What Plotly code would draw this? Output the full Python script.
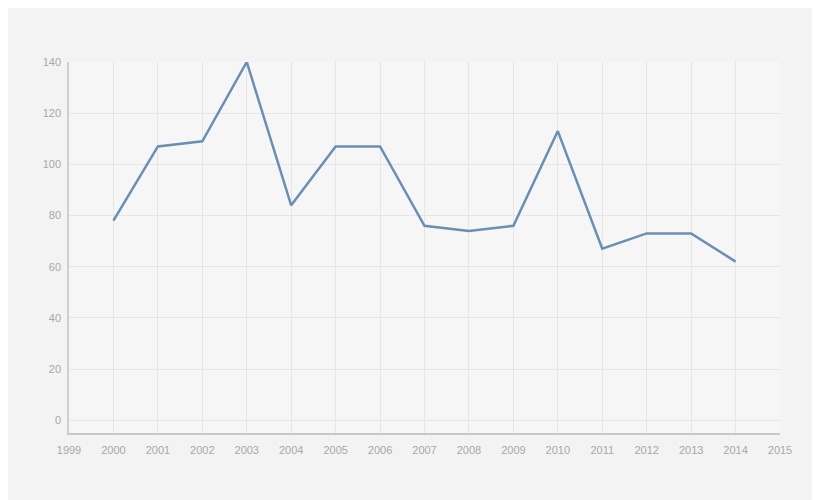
import plotly.graph_objects as go

years = list(range(2000, 2015))
values = [78, 107, 109, 140, 84, 107, 107, 76, 74, 76, 113, 67, 73, 73, 62]
y_ticks = [0, 20, 40, 60, 80, 100, 120, 140]
x_ticks = list(range(1999, 2016))

fig = go.Figure()
fig.add_trace(go.Scatter(
    x=years, y=values, mode="lines",
    line=dict(color="#6b8fb3", width=2.5),
    showlegend=False,
))
fig.update_layout(
    width=820, height=500,
    margin=dict(l=61, r=48, t=54, b=75),
    paper_bgcolor="#f3f3f3",
    plot_bgcolor="#f6f6f6",
    font=dict(family="Liberation Sans, Arial", size=11, color="#a8a8a8"),
)
fig.update_xaxes(
    range=[1999, 2015], tickvals=x_ticks, ticktext=[str(t) for t in x_ticks],
    showgrid=True, gridcolor="#e6e6e6", gridwidth=1,
    showline=True, linecolor="#c8c8c8", linewidth=1.5,
    zeroline=False, ticks="", ticklen=0, ticklabelstandoff=6,
)
fig.update_yaxes(
    range=[-5, 140], tickvals=y_ticks,
    showgrid=True, gridcolor="#e6e6e6", gridwidth=1,
    showline=True, linecolor="#d0d0d0", linewidth=1.5,
    zeroline=False, ticks="", ticklabelstandoff=4,
)
fig.write_html("out.html")
